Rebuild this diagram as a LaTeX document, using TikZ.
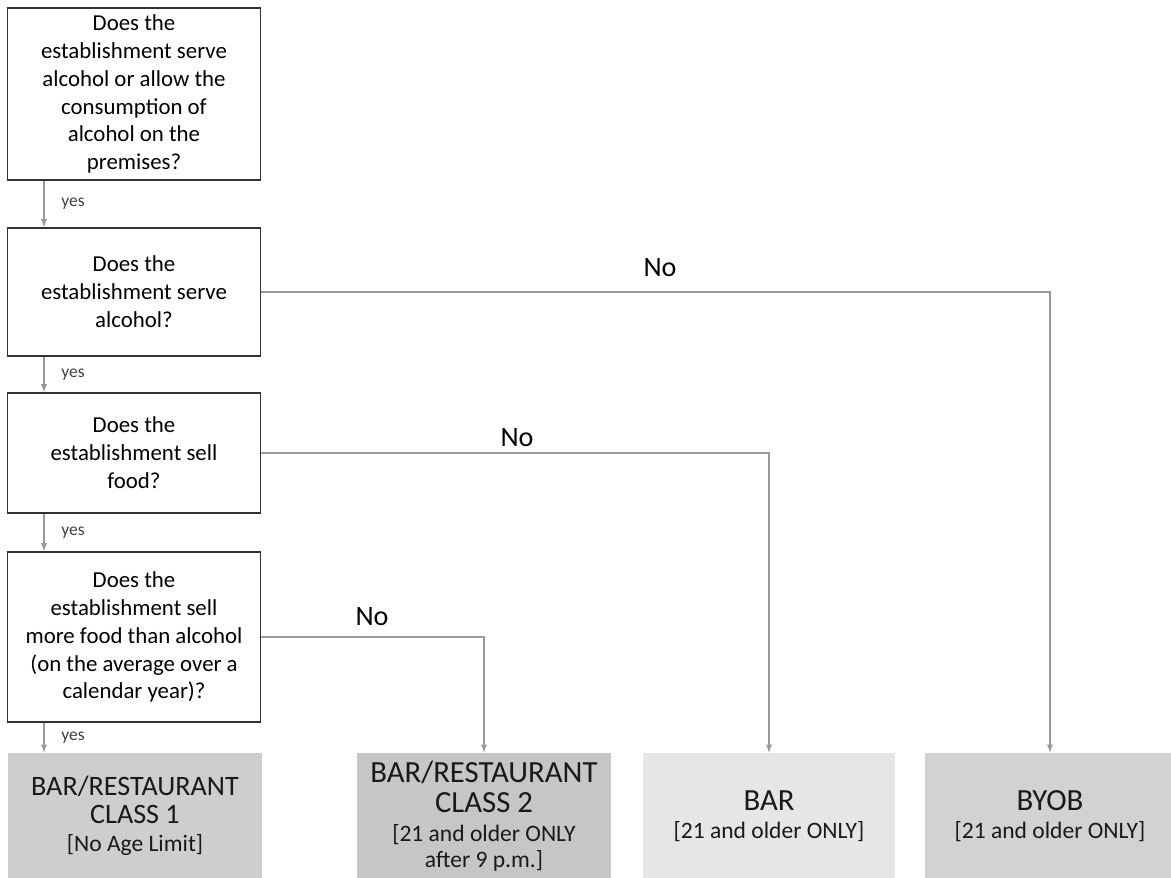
\documentclass[tikz,border=0pt]{standalone}
\usepackage{fontspec}
\setmainfont{Carlito}
\usetikzlibrary{arrows,positioning,calc,shapes}
\tikzset{>=latex}
\definecolor{boxline}{HTML}{333333}
\definecolor{linkgray}{HTML}{9A9A9A}
\definecolor{classone}{HTML}{CECECE}
\definecolor{classtwo}{HTML}{C6C6C6}
\definecolor{barfill}{HTML}{E6E6E6}
\definecolor{byobfill}{HTML}{D2D2D2}
\newcommand{\bigline}[1]{{\fontsize{17.5}{19.5}\selectfont #1}}
\newcommand{\midline}[1]{{\fontsize{16}{17}\selectfont #1}}

\begin{document}
\begin{tikzpicture}[x=0.02cm,y=-0.02cm,
  question/.style={draw=boxline,line width=0.9pt,align=center,minimum width=5.06cm,inner sep=2pt,font=\fontsize{13}{15.9}\selectfont},
  answer/.style={align=center,minimum width=5.08cm,minimum height=2.52cm,inner sep=1pt,text=black!90,font=\fontsize{13.4}{15}\selectfont},
  yeslabel/.style={font=\fontsize{10}{12}\selectfont,text=black!75},
  nolabel/.style={font=\fontsize{16}{18}\selectfont}]

\useasboundingbox (0,0) rectangle (1171,878);

\node [question,minimum height=3.44cm] (q1) at (134,94) {Does the\\establishment serve\\alcohol or allow the\\consumption of\\alcohol on the\\premises?};
\node [question,minimum height=2.56cm] (q2) at (134,292) {Does the\\establishment serve\\alcohol?};
\node [question,minimum height=2.4cm] (q3) at (134,453) {Does the\\establishment sell\\food?};
\node [question,minimum height=3.4cm] (q4) at (134,637) {Does the\\establishment sell\\more food than alcohol\\(on the average over a\\calendar year)?};

\node [answer,fill=classone] (a1) at (135,816) {\midline{BAR/RESTAURANT}\\[1pt]\midline{CLASS 1}\\[1pt]{[}No Age Limit]};
\node [answer,fill=classtwo] (a2) at (484,816) {\bigline{BAR/RESTAURANT}\\[2.5pt]\bigline{CLASS 2}\\[1pt]{[}21 and older ONLY\\after 9 p.m.]};
\node [answer,fill=barfill,minimum width=5.04cm] (a3) at (769,816) {\bigline{BAR}\\[1pt]{[}21 and older ONLY]};
\node [answer,fill=byobfill,minimum width=5cm] (a4) at (1050,816) {\bigline{BYOB}\\[1pt]{[}21 and older ONLY]};

\coordinate (yesx) at (44,0);

\begin{scope}[draw=linkgray,line width=0.6pt]
\draw[->] (q1.south -| yesx) to (q2.north -| yesx);
\draw[->] (q2.south -| yesx) to (q3.north -| yesx);
\draw[->] (q3.south -| yesx) to (q4.north -| yesx);
\draw[->] (q4.south -| yesx) to (a1.north -| yesx);
\draw[->] (q2.east) -| (a4.north);
\draw[->] (q3.east) -| (a3.north);
\draw[->] (q4.east) -| (a2.north);
\end{scope}

\node [yeslabel] (y1) at (73,204) {yes};
\node [yeslabel] (y2) at (73,375) {yes};
\node [yeslabel] (y3) at (73,533) {yes};
\node [yeslabel] (y4) at (73,738) {yes};

\node [nolabel] (n1) at (660,268) {No};
\node [nolabel] (n2) at (517,438) {No};
\node [nolabel] (n3) at (372,617) {No};

\end{tikzpicture}
\end{document}
